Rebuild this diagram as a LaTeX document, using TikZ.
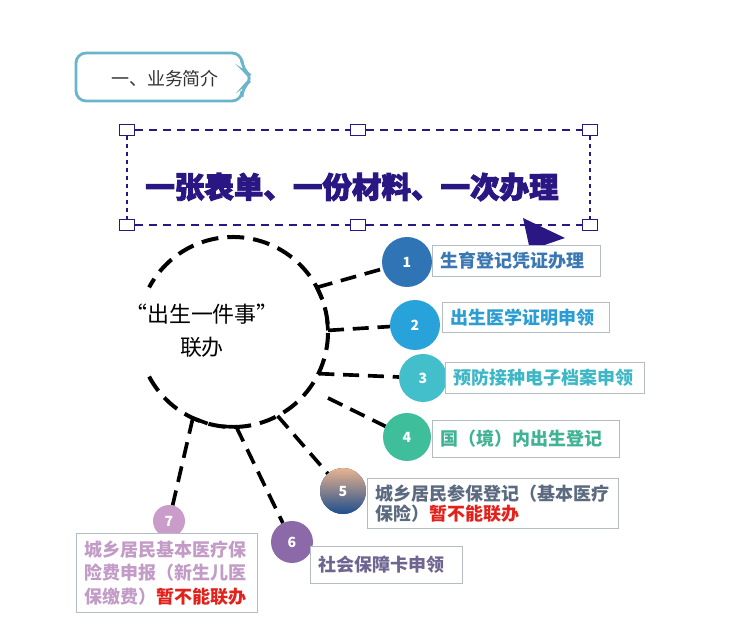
\documentclass[tikz,border=0pt]{standalone}
\usepackage{fontspec}
\setmainfont{Noto Sans CJK SC}
\newfontfamily\heavyfont[BoldFeatures={FakeBold=3}]{Noto Sans CJK SC}
\usepackage{tikz-network}
\definecolor{ink}{HTML}{2B1784}
\definecolor{frame}{HTML}{6BB5CB}
\definecolor{headgray}{HTML}{333333}
\definecolor{boxline}{HTML}{B3BBC3}
\definecolor{warn}{HTML}{E3211B}
\definecolor{c1}{HTML}{2F74B5}
\definecolor{c2}{HTML}{28A2DA}
\definecolor{c3}{HTML}{43BFCB}
\definecolor{c4}{HTML}{3EBE9A}
\definecolor{c5top}{HTML}{E9B38E}
\definecolor{c5bot}{HTML}{1E4D8C}
\definecolor{c6}{HTML}{8C69A8}
\definecolor{c7}{HTML}{C99CC9}
\definecolor{t1}{HTML}{3B78B3}
\definecolor{t2}{HTML}{2A9DD3}
\definecolor{t3}{HTML}{3DB7C5}
\definecolor{t4}{HTML}{3FB394}
\definecolor{t5}{HTML}{5B6A7F}
\definecolor{t6}{HTML}{6E6590}
\definecolor{t7}{HTML}{C39BC7}
\tikzset{
  lbl/.style={draw=boxline, line width=0.8pt, fill=white, anchor=north west, align=left,
    inner xsep=0.2cm, inner ysep=0pt, font=\bfseries\fontsize{12.8}{14.6}\selectfont},
  handle/.style={draw=ink, line width=1.4pt, fill=white, minimum width=0.375cm,
    minimum height=0.275cm, inner sep=0pt},
  link/.style={line width=2.6pt, dash pattern=on 0.4cm off 0.22cm},
  tick/.style={line width=2.6pt},
  ball/.style={draw=none}
}

\begin{document}
\begin{tikzpicture}
\useasboundingbox (0,0) rectangle (18.575,15.75);
\draw[line width=2pt, draw=frame, rounded corners=0.25cm] (1.9,13.8) |- (6.05,14.425) -- (6.05,14.0) -- (6.35,13.8) -- (6.05,13.575) |- (1.9,13.225) -- cycle;
\node[text=headgray, font=\fontsize{12.8}{14}\selectfont] (head) at (4.125,13.775) {一、业务简介};
\node[handle] (c1) at (3.175,12.5) {};
\node[handle] (c2) at (8.95,12.5) {};
\node[handle] (c3) at (14.75,12.5) {};
\node[handle] (c4) at (3.175,10.125) {};
\node[handle] (c5) at (8.95,10.125) {};
\node[handle] (c6) at (14.75,10.125) {};
\draw[ink, line width=1.1pt, dash pattern=on 0.2cm off 0.15cm] (c1) -- (c2) (c2) -- (c3) (c4) -- (c5) (c5) -- (c6);
\draw[ink, line width=1.6pt, dash pattern=on 0.1cm off 0.1cm] (c1) -- (c4) (c3) -- (c6);
\node[text=ink, font=\heavyfont\bfseries\fontsize{21}{21}\selectfont] (motto) at (8.8,11.075) {一张表单、一份材料、一次办理};
\fill[ink] (13.075,10.3) -- (14.125,9.8) -- (13.25,9.5) -- cycle;
\coordinate (hub) at (5.825,7.45);
\draw[line width=2.85pt, dash pattern=on 0.425cm off 0.225cm] (hub) ++(208:2.375) arc[start angle=208, end angle=512, radius=2.375];
\node[align=center, font=\fontsize{15.6}{23.5}\selectfont] (name) at (5.05,7.475) {“出生一件事”\\联办};
\Vertex[x=10.175, y=9.2, size=1.25, color=c1, label=1, fontcolor=white, fontsize=\bfseries, style={ball}]{v1}
\Vertex[x=10.375, y=7.625, size=1.25, color=c2, label=2, fontcolor=white, fontsize=\bfseries, style={ball}]{v2}
\Vertex[x=10.575, y=6.3, size=1.2, color=c3, label=3, fontcolor=white, fontsize=\bfseries, style={ball}]{v3}
\Vertex[x=10.175, y=4.825, size=1.2, color=c4, label=4, fontcolor=white, fontsize=\bfseries, style={ball}]{v4}
\Vertex[x=8.575, y=3.475, size=1.15, color=c5bot, label=5, fontcolor=white, fontsize=\bfseries, style={ball, top color=c5top, bottom color=c5bot}]{v5}
\Vertex[x=7.3, y=2.2, size=1.05, color=c6, label=6, fontcolor=white, fontsize=\bfseries, style={ball}]{v6}
\Vertex[x=4.225, y=2.725, size=0.8, color=c7, label=7, fontcolor=white, fontsize=\bfseries, style={ball}]{v7}
\coordinate (p1) at (7.922,8.565);
\coordinate (q1) at (8.057,8.262);
\coordinate (p2) at (8.2,7.49);
\coordinate (q2) at (8.171,7.821);
\coordinate (p3) at (7.96,6.409);
\coordinate (p4) at (8.2,5.8);
\coordinate (p5) at (6.94,5.353);
\coordinate (p6) at (5.908,5.076);
\coordinate (q6) at (5.55,5.09);
\coordinate (p7) at (4.821,5.298);
\coordinate (q7) at (5.19,5.161);
\Edge[lw=2.6, color=black, style={link}](p1)(v1)
\Edge[lw=2.6, color=black, style={tick}](p1)(q1)
\Edge[lw=2.6, color=black, style={link}](p2)(v2)
\Edge[lw=2.6, color=black, style={tick}](p2)(q2)
\Edge[lw=2.6, color=black, style={link}](p3)(v3)
\Edge[lw=2.6, color=black, style={link}](p4)(v4)
\Edge[lw=2.6, color=black, style={link}](p5)(v5)
\Edge[lw=2.6, color=black, style={link}](p6)(v6)
\Edge[lw=2.6, color=black, style={tick}](p6)(q6)
\Edge[lw=2.6, color=black, style={link}](p7)(v7)
\Edge[lw=2.6, color=black, style={tick}](p7)(q7)
\node[lbl, text=t1, text width=3.8cm, minimum height=0.775cm] (l1) at (10.8,9.625) {生育登记凭证办理};
\node[lbl, text=t2, text width=3.775cm, minimum height=0.75cm] (l2) at (11.05,8.2) {出生医学证明申领};
\node[lbl, text=t3, text width=4.575cm, minimum height=0.775cm] (l3) at (11.125,6.7) {预防接种电子档案申领};
\node[lbl, text=t4, text width=4.275cm, minimum height=0.925cm] (l4) at (10.8,5.25) {国（境）内出生登记};
\node[lbl, text=t5, text width=5.875cm, minimum height=1.25cm] (l5) at (9.175,3.8) {城乡居民参保登记（基本医疗\\保险）\textcolor{warn}{暂不能联办}};
\node[lbl, text=t6, text width=3.4cm, minimum height=0.925cm] (l6) at (7.75,2.1) {社会保障卡申领};
\node[lbl, text=t7, text width=4.125cm, minimum height=1.975cm, font=\bfseries\fontsize{12.8}{16.7}\selectfont] (l7) at (1.9,2.425) {城乡居民基本医疗保\\险费申报（新生儿医\\保缴费）\textcolor{warn}{暂不能联办}};
\end{tikzpicture}
\end{document}
